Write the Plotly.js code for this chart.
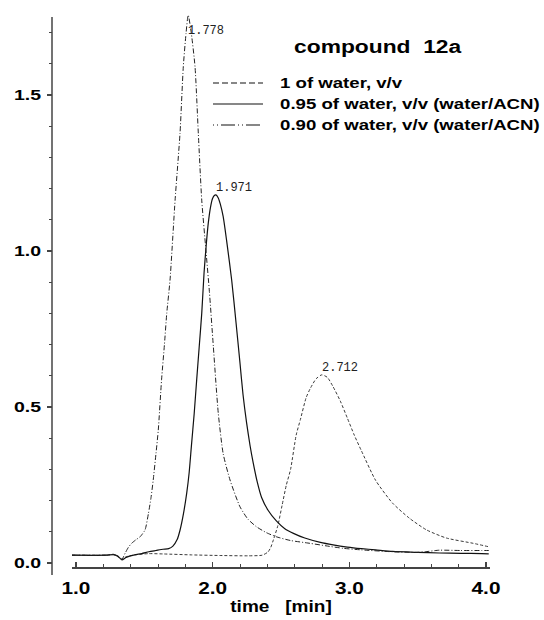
<!DOCTYPE html>
<html><head><meta charset="utf-8">
<script src="https://cdn.plot.ly/plotly-3.0.1.min.js"></script>
<style>html,body{margin:0;padding:0;background:#fff;}#chart{width:544px;height:620px;}</style>
</head><body><div id="chart"></div>
<script>
// ---------------- data ----------------
const seriesNames = ["1 of water, v/v", "0.95 of water, v/v (water/ACN)", "0.90 of water, v/v (water/ACN)"];
const chartTitle = "compound\u00a0 12a";
const xTitle = "time\u00a0\u00a0 [min]";

const tWater100 = [0.97,1.222,1.274,1.305,1.336,1.367,1.429,1.533,1.637,1.844,2.051,2.259,2.362,2.404,2.425,2.445,2.477,2.508,2.539,2.570,2.611,2.642,2.684,2.715,2.756,2.798,2.839,2.881,2.933,2.985,3.036,3.088,3.192,3.316,3.441,3.565,3.710,3.907,4.02];
const vWater100 = [0.025,0.025,0.028,0.022,0.012,0.020,0.026,0.030,0.029,0.026,0.024,0.023,0.025,0.035,0.050,0.075,0.120,0.185,0.250,0.300,0.410,0.460,0.530,0.560,0.590,0.603,0.595,0.565,0.520,0.465,0.410,0.360,0.265,0.192,0.143,0.106,0.080,0.063,0.052];

const tWater095 = [0.97,1.222,1.274,1.305,1.336,1.367,1.429,1.481,1.533,1.585,1.637,1.678,1.709,1.740,1.761,1.787,1.810,1.828,1.844,1.865,1.883,1.901,1.920,1.937,1.953,1.968,1.984,1.999,2.012,2.024,2.041,2.056,2.077,2.103,2.139,2.171,2.200,2.222,2.248,2.274,2.297,2.326,2.358,2.404,2.466,2.528,2.591,2.674,2.788,2.881,2.985,3.088,3.192,3.316,3.503,3.658,3.814,3.969,4.02];
const vWater095 = [0.025,0.025,0.027,0.022,0.010,0.018,0.026,0.030,0.036,0.040,0.044,0.046,0.054,0.075,0.105,0.160,0.224,0.290,0.373,0.480,0.587,0.690,0.800,0.930,1.020,1.090,1.140,1.168,1.178,1.180,1.170,1.150,1.110,1.030,0.907,0.770,0.640,0.540,0.450,0.375,0.320,0.260,0.210,0.170,0.135,0.110,0.095,0.080,0.066,0.058,0.051,0.046,0.042,0.037,0.034,0.032,0.031,0.030,0.029];

const tWater090 = [0.97,1.222,1.274,1.305,1.336,1.359,1.383,1.407,1.440,1.469,1.505,1.530,1.549,1.565,1.585,1.602,1.626,1.647,1.664,1.688,1.725,1.761,1.785,1.805,1.821,1.844,1.871,1.895,1.920,1.951,1.976,2.005,2.041,2.077,2.127,2.200,2.259,2.321,2.394,2.466,2.570,2.712,2.829,2.955,3.088,3.316,3.492,3.555,3.658,3.814,3.969,4.02];
const vWater090 = [0.025,0.025,0.027,0.022,0.012,0.031,0.050,0.063,0.075,0.084,0.106,0.159,0.210,0.266,0.350,0.426,0.587,0.700,0.800,0.907,1.163,1.377,1.590,1.697,1.756,1.697,1.590,1.377,1.163,1.000,0.870,0.693,0.480,0.350,0.266,0.180,0.140,0.116,0.097,0.084,0.072,0.063,0.055,0.047,0.042,0.036,0.034,0.036,0.041,0.040,0.040,0.040];

const peakLabels = ["2.712", "1.971", "1.778"];
const xTickVals = [1, 2, 3, 4];
const xTickText = ["1.0", "2.0", "3.0", "4.0"];
const yTickVals = [0, 0.5, 1.0, 1.5];
const yTickText = ["0.0", "0.5", "1.0", "1.5"];

// ---------------- layout helpers ----------------
const PL = 52, PR = 490, PT = 12, PB = 575;
const px = x => (x - PL) / (PR - PL);
const py = y => (PB - y) / (PB - PT);

const seriesT = [tWater100, tWater095, tWater090];
const seriesV = [vWater100, vWater095, vWater090];
const lineStyles = [
  {color: '#3a3a3a', width: 1, dash: '3px,2px'},
  {color: '#111', width: 1.2, dash: 'solid'},
  {color: '#222', width: 1, dash: '5px,2px,1px,2px'}
];
const legendDash = ['6px,3px', 'solid', '1px,3px,1px,3px,14px,3px'];

const traces = seriesT.map((t, i) => ({
  x: t, y: seriesV[i], type: 'scatter', mode: 'lines', name: seriesNames[i],
  line: Object.assign({shape: 'spline', smoothing: 0.6}, lineStyles[i]),
  showlegend: false, hoverinfo: 'skip'
}));

const boldFont = (size) => ({family: 'Liberation Sans, Arial, sans-serif', size: size, weight: 700, color: '#000'});

const annotations = [];
const shapes = [];
// y axis line (drawn to the axis top, below the plotting headroom)
shapes.push({type: 'line', xref: 'paper', yref: 'paper', x0: 0, x1: 0, y0: py(575), y1: py(17),
  line: {color: '#444', width: 1.5}});
// title
annotations.push({xref: 'paper', yref: 'paper', x: px(378), y: py(47), text: chartTitle,
  showarrow: false, xanchor: 'center', yanchor: 'middle', font: boldFont(19)});
// legend
const rowY = [83, 104, 125];
seriesNames.forEach((n, i) => {
  shapes.push({type: 'line', xref: 'paper', yref: 'paper', x0: px(213), x1: px(263), y0: py(rowY[i]), y1: py(rowY[i]),
    line: {color: '#111', width: 1.2, dash: legendDash[i]}});
  annotations.push({xref: 'paper', yref: 'paper', x: px(278), y: py(rowY[i]), text: n, showarrow: false,
    xanchor: 'left', yanchor: 'middle', font: boldFont(14)});
});
// peak labels at each series maximum
const labelShift = [7, 7, -16];
seriesV.forEach((v, i) => {
  let k = 0; v.forEach((val, j) => { if (val > v[k]) k = j; });
  annotations.push({x: seriesT[i][k], y: v[k], xref: 'x', yref: 'y', text: peakLabels[i], showarrow: false,
    xanchor: 'left', yanchor: 'middle', xshift: -2, yshift: labelShift[i],
    font: {family: 'Liberation Mono, Courier New, monospace', size: 12, color: '#222'}});
});

const layout = {
  width: 544, height: 620, autosize: false,
  paper_bgcolor: '#fff', plot_bgcolor: '#fff',
  margin: {l: PL, r: 544 - PR, t: PT, b: 620 - PB, pad: 0},
  showlegend: false,
  xaxis: {
    domain: [px(72), 1], range: [0.9707, 4.0292], anchor: 'free', position: py(567),
    showline: true, linecolor: '#444', linewidth: 1.5, zeroline: false, showgrid: false,
    tickmode: 'array', tickvals: xTickVals, ticktext: xTickText,
    ticks: 'inside', ticklen: 5, tickwidth: 1.2, tickcolor: '#444',
    minor: {dtick: 0.2, tick0: 0, ticks: 'inside', ticklen: 3, tickwidth: 1, tickcolor: '#444', showgrid: false},
    tickfont: boldFont(16), ticklabelstandoff: 6,
    title: {text: xTitle, font: boldFont(17), standoff: 4}
  },
  yaxis: {
    domain: [0, 1], range: [-0.0385, 1.766], anchor: 'free', position: 0,
    showline: false, zeroline: false, showgrid: false,
    tickmode: 'array', tickvals: yTickVals, ticktext: yTickText,
    ticks: 'outside', ticklen: 5, tickwidth: 1.2, tickcolor: '#444',
    minor: {dtick: 0.1, tick0: 0, ticks: 'outside', ticklen: 3, tickwidth: 1, tickcolor: '#444', showgrid: false},
    tickfont: boldFont(15), ticklabelstandoff: 3
  },
  annotations: annotations,
  shapes: shapes
};

function stretchText(nodes, sx, anchor) {
  nodes.forEach(el => {
    const bb = el.getBBox();
    const ax = anchor === 'left' ? bb.x : anchor === 'right' ? bb.x + bb.width : bb.x + bb.width / 2;
    const tr = el.getAttribute('transform') || '';
    el.setAttribute('transform', tr + ' translate(' + ax + ',0) scale(' + sx + ',1) translate(' + (-ax) + ',0)');
  });
}

Plotly.newPlot('chart', traces, layout, {staticPlot: true, displayModeBar: false}).then(gd => {
  stretchText(gd.querySelectorAll('g.xtick text'), 1.3, 'center');
  stretchText(gd.querySelectorAll('g.ytick text'), 1.3, 'right');
  stretchText(gd.querySelectorAll('text.xtitle'), 1.12, 'center');
  gd.querySelectorAll('g.annotation').forEach(g => {
    const idx = +g.getAttribute('data-index');
    const t = g.querySelector('text.annotation-text');
    if (!t) return;
    if (idx === 0) stretchText([t], 1.2, 'center');
    else if (idx >= 1 && idx <= 3) stretchText([t], 1.33, 'left');
  });
});
</script>
</body></html>
